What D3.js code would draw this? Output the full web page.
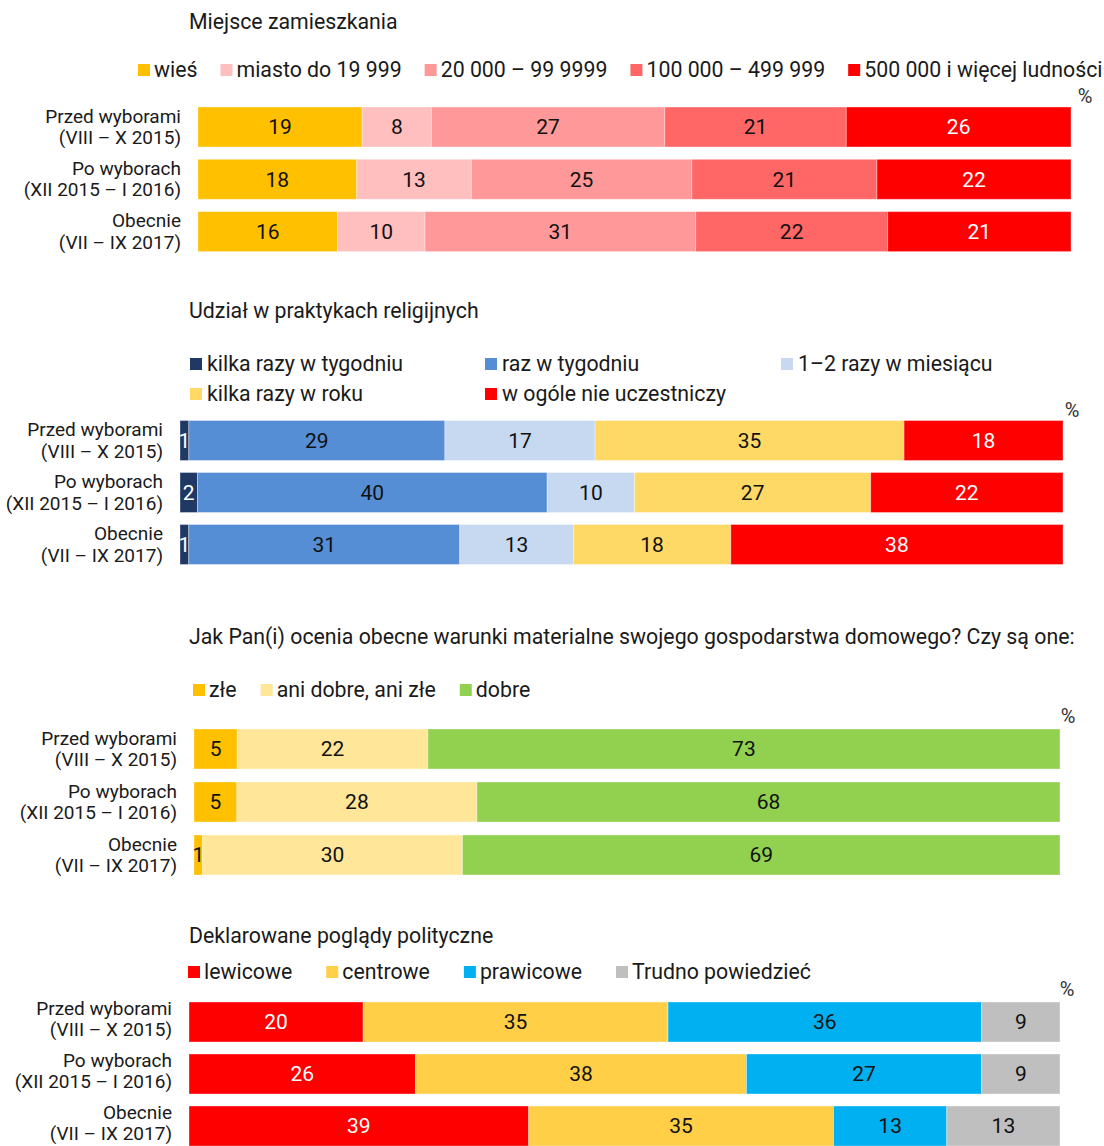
<!DOCTYPE html>
<html>
<head>
<meta charset="utf-8">
<script src="https://cdn.jsdelivr.net/npm/d3@7"></script>
<style>
  body { margin: 0; background: #fff; }
  svg { font-family: Roboto, "Noto Sans", sans-serif; }
</style>
</head>
<body>
<div id="chart"></div>
<script>
// row labels shared by all four panels
const rowLabels = [
  ["Przed wyborami", "(VIII – X 2015)"],
  ["Po wyborach", "(XII 2015 – I 2016)"],
  ["Obecnie", "(VII – IX 2017)"]
];

// Miejsce zamieszkania
const placeSeries = ["wieś", "miasto do 19 999", "20 000 – 99 9999", "100 000 – 499 999", "500 000 i więcej ludności"];
const placeValues = [
  [19, 8, 27, 21, 26],
  [18, 13, 25, 21, 22],
  [16, 10, 31, 22, 21]
];
const placeColors = ["#FFC000", "#FFBFBF", "#FF9999", "#FF6666", "#FF0000"];

// Udział w praktykach religijnych
const religSeries = ["kilka razy w tygodniu", "raz w tygodniu", "1–2 razy w miesiącu", "kilka razy w roku", "w ogóle nie uczestniczy"];
const religValues = [
  [1, 29, 17, 35, 18],
  [2, 40, 10, 27, 22],
  [1, 31, 13, 18, 38]
];
const religColors = ["#1F3864", "#558ED5", "#C6D9F1", "#FFD966", "#FF0000"];

// warunki materialne
const matSeries = ["złe", "ani dobre, ani złe", "dobre"];
const matValues = [
  [5, 22, 73],
  [5, 28, 68],
  [1, 30, 69]
];
const matColors = ["#FFC000", "#FFE699", "#92D050"];

// poglądy polityczne
const polSeries = ["lewicowe", "centrowe", "prawicowe", "Trudno powiedzieć"];
const polValues = [
  [20, 35, 36, 9],
  [26, 38, 27, 9],
  [39, 35, 13, 13]
];
const polColors = ["#FF0000", "#FFCF48", "#00B0F0", "#BFBFBF"];

const whiteText = ["#FF0000", "#1F3864"];

const svg = d3.select("#chart").append("svg")
  .attr("width", 1104)
  .attr("height", 1146);

function panel(opt) {
  const g = svg.append("g");

  // title
  g.append("text")
    .attr("x", 189).attr("y", opt.titleY)
    .attr("dy", "0.35em")
    .style("font-size", "21.3px").attr("fill", "#1a1a1a")
    .text(opt.title);

  // legend
  const leg = g.append("g");
  if (opt.legendCols) {
    opt.series.forEach((s, i) => {
      const col = i % opt.legendCols.length, row = Math.floor(i / opt.legendCols.length);
      const item = leg.append("g")
        .attr("transform", `translate(${opt.legendCols[col]}, ${opt.legendY[row]})`);
      item.append("rect").attr("x", 0).attr("y", -6).attr("width", 12).attr("height", 12).attr("fill", opt.colors[i]);
      item.append("text").attr("x", 17).attr("dy", "0.35em")
        .style("font-size", "21.3px").attr("fill", "#1a1a1a").text(s);
    });
  } else {
    let lx = opt.legendX;
    opt.series.forEach((s, i) => {
      const item = leg.append("g").attr("transform", `translate(${lx}, ${opt.legendY[0]})`);
      item.append("rect").attr("x", 0).attr("y", -6).attr("width", 12).attr("height", 12).attr("fill", opt.colors[i]);
      const t = item.append("text").attr("x", 16).attr("dy", "0.35em")
        .style("font-size", "21.3px").attr("fill", "#1a1a1a").text(s);
      lx += 16 + t.node().getComputedTextLength() + opt.legendGap;
    });
  }

  // y band scale
  const y = d3.scaleBand()
    .domain(d3.range(rowLabels.length))
    .range([opt.y0, opt.y0 + opt.step * 2 + 40])
    .paddingInner((opt.step - 40) / opt.step);

  // % sign
  g.append("text")
    .attr("x", opt.x1 + opt.pct[0]).attr("y", opt.y0 - opt.pct[1])
    .attr("text-anchor", "middle")
    .style("font-size", "20px").attr("fill", "#333")
    .text("%");

  opt.values.forEach((vals, r) => {
    const total = d3.sum(vals);
    const x = d3.scaleLinear().domain([0, total]).range([opt.x0, opt.x1]);
    const cum = [0, ...d3.cumsum(vals)];
    const segs = vals.map((v, i) => ({v: v, start: cum[i], end: cum[i + 1], color: opt.colors[i]}));

    const row = g.append("g");
    row.selectAll("rect")
      .data(segs)
      .join("rect")
      .attr("x", d => x(d.start))
      .attr("y", y(r))
      .attr("width", d => x(d.end) - x(d.start))
      .attr("height", y.bandwidth())
      .attr("fill", d => d.color)
      .attr("stroke", "#fff")
      .attr("stroke-opacity", 0.35)
      .attr("stroke-width", 1);

    row.selectAll("text")
      .data(segs)
      .join("text")
      .attr("x", d => (x(d.start) + x(d.end)) / 2)
      .attr("y", y(r) + y.bandwidth() / 2)
      .attr("dy", "0.35em")
      .attr("text-anchor", "middle")
      .style("font-size", "21px")
      .attr("fill", d => whiteText.includes(d.color) ? "#fff" : "#111")
      .text(d => d.v);

    // row label (last panel sits a bit higher so the bottom line is not clipped)
    const lab = g.append("text")
      .attr("x", opt.x0 - 17)
      .attr("y", y(r) + y.bandwidth() / 2 - (opt.labelLift || 0))
      .attr("text-anchor", "end")
      .style("font-size", "19px").attr("fill", "#1a1a1a");
    lab.append("tspan").attr("x", opt.x0 - 17).attr("dy", "-0.22em").text(rowLabels[r][0]);
    lab.append("tspan").attr("x", opt.x0 - 17).attr("dy", "1.12em").text(rowLabels[r][1]);
  });
}

panel({
  title: "Miejsce zamieszkania", titleY: 22,
  series: placeSeries, values: placeValues, colors: placeColors,
  legendX: 138, legendY: [70], legendGap: 23,
  x0: 198, x1: 1071, y0: 107, step: 52.3, pct: [14, 4]
});

panel({
  title: "Udział w praktykach religijnych", titleY: 311,
  series: religSeries, values: religValues, colors: religColors,
  legendCols: [190, 485, 781], legendY: [364, 394],
  x0: 180, x1: 1063, y0: 420.5, step: 52, pct: [9, 4]
});

panel({
  title: "Jak Pan(i) ocenia obecne warunki materialne swojego gospodarstwa domowego? Czy są one:", titleY: 637,
  series: matSeries, values: matValues, colors: matColors,
  legendX: 193, legendY: [690], legendGap: 24,
  x0: 194, x1: 1060, y0: 729, step: 53, pct: [8, 6]
});

panel({
  title: "Deklarowane poglądy polityczne", titleY: 936,
  series: polSeries, values: polValues, colors: polColors,
  legendX: 188, legendY: [972], legendGap: 34,
  x0: 189, x1: 1060, y0: 1002, step: 52, pct: [7, 6], labelLift: 3
});
</script>
</body>
</html>
